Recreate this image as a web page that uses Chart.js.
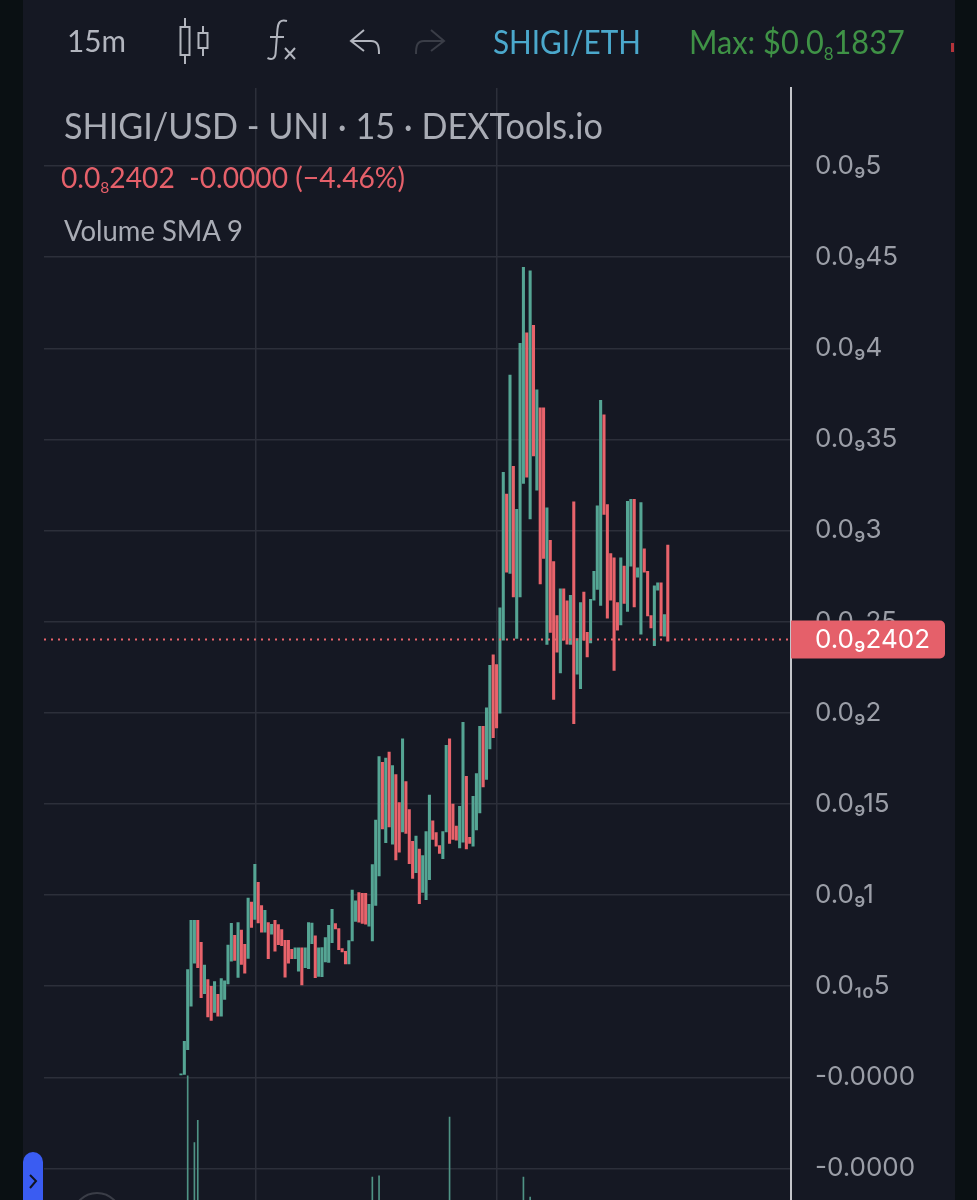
<!DOCTYPE html>
<html><head><meta charset="utf-8">
<script src="https://cdn.jsdelivr.net/npm/chart.js@4"></script>
<style>
html,body{margin:0;padding:0;background:#0a1013;width:977px;height:1200px;overflow:hidden}
#panel{position:absolute;left:23px;top:0;width:932px;height:1200px;background:#151823}
canvas{position:absolute;left:0;top:0}
.t{position:absolute;white-space:nowrap;font-family:Lato,sans-serif;line-height:1;z-index:3;transform-origin:0 50%}
.t sub{font-size:.55em;vertical-align:-.35em;line-height:0}
svg{position:absolute;left:0;top:0;z-index:3}
</style></head><body>
<div id="panel"></div>
<canvas id="c" width="977" height="1240" style="width:977px;height:1240px"></canvas>
<svg width="977" height="1200" fill="none">
  <g stroke="#b2b5be" stroke-width="2">
    <rect x="180.5" y="27" width="9" height="28"/><path d="M185 18v9M185 55v9"/>
    <rect x="198.5" y="33" width="9" height="15"/><path d="M203 26v7M203 48v8"/>
    <path d="M287 21c-7-2-9 2-9.500 8l-2 25c-.5 5-4 6-8 4"/><path d="M270 37h14"/>
    <path d="M285 48l10 11M295 48l-10 11" stroke-width="2"/>
    <path d="M364 30l-13 11 13 10M351 41h20c7 0 8 5 8 13"/>
  </g>
  <path d="M431 30l13 11-13 10M444 41h-20c-7 0-8 5-8 13" stroke="#3a3d47" stroke-width="2"/>
  <path d="M23 1200V1162a10 10 0 0 1 20 0V1200z" fill="#3a5cf2"/>
  <path d="M30 1175l6 6-6 7" stroke="#101420" stroke-width="2"/>
  <circle cx="97" cy="1217" r="24" stroke="#3a3d47" stroke-width="2"/>
  <rect x="951" y="43" width="3" height="9" fill="#b5343a"/>
</svg>
<div class="t" style="left:67px;top:25px;font-size:31px;color:#b2b5be;transform:scaleX(.96)">15m</div>
<div class="t" style="left:493px;top:25px;font-size:33px;color:#4ba8cc;transform:scaleX(.9)">SHIGI/ETH</div>
<div class="t" style="left:689px;top:25px;font-size:33px;color:#3f9246;transform:scaleX(.93)">Max: $0.0<sub>8</sub>1837</div>
<div class="t" style="left:64px;top:107px;font-size:36px;color:#a9acb5;transform:scaleX(.95)">SHIGI/USD - UNI · 15 · DEXTools.io</div>
<div class="t" style="left:61px;top:163px;font-size:28.200px;color:#e5606a">0.0<sub>8</sub>2402&nbsp; -0.0000 (−4.46%)</div>
<div class="t" style="left:64px;top:216px;font-size:28px;color:#a9acb5;transform:scaleX(.98)">Volume SMA 9</div>
<script>
const highs=[.0020,.0198,.0591,.0862,.0862,.0862,.0741,.0616,.0536,.0499,.0525,.0456,.0542,.0529,.0726,.0845,.0779,.0849,.0808,.0730,.0984,.0962,.1169,.1070,.0942,.0917,.0849,.0840,.0862,.0838,.0811,.0752,.0752,.0703,.0710,.0710,.0710,.0710,.0849,.0847,.0776,.0710,.0712,.0767,.0834,.0922,.0844,.0816,.0706,.0692,.0750,.1028,.0968,.1014,.1010,.1010,.0950,.1167,.1411,.1760,.1729,.1752,.1785,.1711,.1661,.1508,.1857,.1623,.1469,.1295,.1324,.1253,.1217,.1349,.1549,.1407,.1343,.1272,.1349,.1821,.1857,.1500,.1378,.1487,.1948,.1652,.1317,.1542,.1667,.1926,.1926,.2027,.2260,.2318,.2265,.2576,.3319,.3200,.3853,.3353,.3117,.4027,.4444,.4085,.4425,.4126,.3772,.3673,.3673,.3125,.2946,.2830,.2534,.2680,.2680,.2614,.2644,.3158,.2408,.2605,.2662,.2441,.2622,.2776,.3136,.3714,.3635,.3143,.2874,.2850,.2605,.2850,.2805,.3161,.3171,.3171,.2795,.3154,.2900,.2776,.2534,.2697,.2713,.2713,.2539,.2920];
const lows=[.0013,.0016,.0152,.0391,.0627,.0602,.0437,.0459,.0331,.0313,.0357,.0336,.0336,.0428,.0512,.0638,.0642,.0549,.0619,.0572,.0653,.0822,.0867,.0847,.0797,.0797,.0651,.0785,.0693,.0728,.0723,.0550,.0627,.0651,.0651,.0582,.0507,.0602,.0597,.0734,.0547,.0554,.0553,.0633,.0630,.0739,.0814,.0701,.0688,.0622,.0622,.0748,.0856,.0851,.0845,.0841,.0830,.0748,.0944,.1105,.1363,.1288,.1374,.1279,.1193,.1235,.1346,.1338,.1173,.1092,.1123,.0953,.1014,.0975,.1085,.1305,.1268,.1229,.1200,.1346,.1283,.1305,.1301,.1259,.1291,.1253,.1283,.1268,.1357,.1451,.1593,.1634,.1802,.1864,.1917,.1998,.2398,.2772,.2765,.2636,.2408,.2636,.3258,.3293,.3064,.3410,.3222,.2707,.2847,.2375,.2441,.2073,.2333,.2219,.2398,.2377,.2375,.1941,.2212,.2133,.2398,.2307,.2384,.2618,.2677,.2589,.3088,.2519,.2618,.2232,.2453,.2482,.2600,.2556,.2805,.2581,.2744,.2431,.2772,.2532,.2466,.2369,.2673,.2422,.2420,.2393];
const rising=[1,1,1,1,1,0,0,1,0,0,1,0,1,1,1,1,0,1,0,0,1,0,1,0,0,1,0,1,0,0,0,0,0,0,1,1,0,1,1,1,0,1,1,1,1,1,0,0,0,0,1,1,1,0,0,0,1,1,1,1,0,1,0,1,0,0,1,0,0,0,1,0,1,1,1,0,0,0,1,1,0,0,0,1,1,0,0,1,1,1,0,1,1,0,0,1,1,0,1,0,1,1,1,0,1,0,1,0,0,1,0,0,0,1,0,0,1,0,1,1,0,0,1,1,1,1,0,0,0,0,0,1,0,1,1,0,1,1,0,0,0,1,1,0,1,0];
const volumeSlots=[2,4,5,57,59,80,102,104];
const volumeValues=[11.2,5.2,7.2,2.1,2.2,7.5,2.1,0.3];
const priceTicks=[.5,.45,.4,.35,.3,.25,.2,.15,.1,.05,0,-.05];
const tickLabels=["0.0₉5","0.0₉45","0.0₉4","0.0₉35","0.0₉3","0.0₉25","0.0₉2","0.0₉15","0.0₉1","0.0₁₀5","-0.0000","-0.0000"];
const sessionBreaks=[22.2,94];
const lastPrice=0.2402;
const lastLabel="0.0₉2402";
const GREEN="#55a594",RED="#e8636b",GRID="#2c2f3a",TICK="#9b9ea7";
const XMIN=-40.8,XMAX=181.7;

const priceTag={id:"priceTag",afterDraw(ch){
  const c=ch.ctx,y=ch.scales.y.getPixelForValue(lastPrice),l=ch.chartArea.right;
  c.save();c.fillStyle="#e5606a";c.beginPath();c.roundRect(l,y-19,154,38,[0,5,5,0]);c.fill();
  c.fillStyle="#fff";c.font="26px Inter";c.textBaseline="middle";c.textAlign="left";
  c.fillText(lastLabel,l+24,y+1);c.restore();
}};
new Chart(document.getElementById("c"),{
  data:{datasets:[
    {type:"line",order:0,data:[{x:XMIN,y:lastPrice},{x:XMAX,y:lastPrice}],borderColor:RED,borderWidth:2,borderDash:[2,5],pointRadius:0},
    {type:"bar",order:1,grouped:false,data:highs.map((h,i)=>({x:i,y:[lows[i],h]})),
      backgroundColor:rising.map(r=>r?GREEN:RED),barThickness:2.4,borderWidth:0},
    {type:"bar",order:2,grouped:false,yAxisID:"v",data:volumeSlots.map((s,i)=>({x:s,y:volumeValues[i]})),
      backgroundColor:"#4f9385",barThickness:1,borderWidth:0}
  ]},
  plugins:[priceTag],
  options:{responsive:false,animation:false,devicePixelRatio:1,
    layout:{autoPadding:false,padding:{left:44,top:88,right:0,bottom:0}},
    plugins:{legend:{display:false},tooltip:{enabled:false}},
    scales:{
      x:{type:"linear",min:XMIN,max:XMAX,offset:false,
        afterBuildTicks(s){s.ticks=sessionBreaks.map(v=>({value:v}))},
        afterFit(s){s.height=0},
        ticks:{display:false},grid:{offset:false,color:GRID,lineWidth:1.5,drawTicks:false},border:{display:false}},
      y:{type:"linear",position:"right",min:-0.0675,max:0.5428,
        afterBuildTicks(s){s.ticks=priceTicks.map(v=>({value:v}))},
        afterFit(s){s.width=186},
        ticks:{autoSkip:false,maxRotation:0,padding:24,color:TICK,font:{family:"Inter",size:26},
          callback:(v,i)=>tickLabels[i]},
        grid:{color:GRID,lineWidth:1.5,drawTicks:false},
        border:{display:true,color:"#c4c5ca",width:2}},
      v:{type:"linear",display:false,min:0,max:100}
    }}
});
</script>
</body></html>
